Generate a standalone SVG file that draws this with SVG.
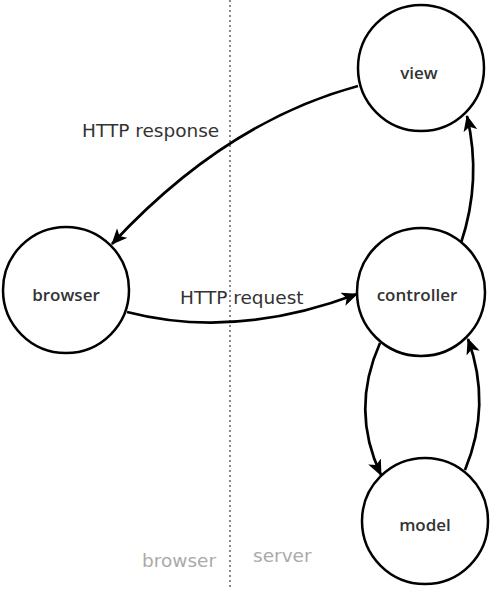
<svg xmlns="http://www.w3.org/2000/svg" width="500" height="589" viewBox="0 0 500 589">
<style>
.node{fill:#fff;stroke:#000;stroke-width:2.5}
.nl{font-family:"Open Sans","Noto Sans",sans-serif;font-weight:600;font-size:17px;fill:#333;text-anchor:middle}
.edge{fill:none;stroke:#000;stroke-width:2.7;marker-end:url(#ah)}
.el{font-family:"DejaVu Sans",sans-serif;font-size:18.5px;fill:#333}
.zone{font-family:"DejaVu Sans",sans-serif;font-size:18.5px;fill:#aaa}
</style>
<defs>
<marker id="ah" viewBox="0 0 16 14" refX="15" refY="7" markerWidth="16" markerHeight="14" markerUnits="userSpaceOnUse" orient="auto">
<path d="M0,0 L16,7 L0,14 L4,7 z" fill="#000"/>
</marker>
</defs>
<rect width="500" height="589" fill="#fff"/>
<line x1="230" y1="0" x2="230" y2="589" stroke="#888" stroke-width="2" stroke-dasharray="2,3"/>
<g id="connectors">
<path class="edge" d="M358,86 Q225,122 112,244"/>
<path class="edge" d="M127,312 Q235,340 357,294"/>
<path class="edge" d="M461,243 Q482,180 467,116"/>
<path class="edge" d="M380,343 Q350,410 381,475"/>
<path class="edge" d="M465,470 Q492,405 468,339"/>
</g>
<text class="el" x="82" y="137">HTTP response</text>
<text class="el" x="180" y="304">HTTP request</text>
<text class="zone" x="142" y="567">browser</text>
<text class="zone" x="253" y="562">server</text>
<g id="view"><circle class="node" cx="421" cy="68" r="63"/><text class="nl" x="419" y="79">view</text></g>
<g id="browser"><circle class="node" cx="66" cy="290" r="63"/><text class="nl" x="66" y="301">browser</text></g>
<g id="controller"><circle class="node" cx="421" cy="292" r="64"/><text class="nl" x="417" y="301">controller</text></g>
<g id="model"><circle class="node" cx="425" cy="521" r="63"/><text class="nl" x="425" y="531">model</text></g>
</svg>
